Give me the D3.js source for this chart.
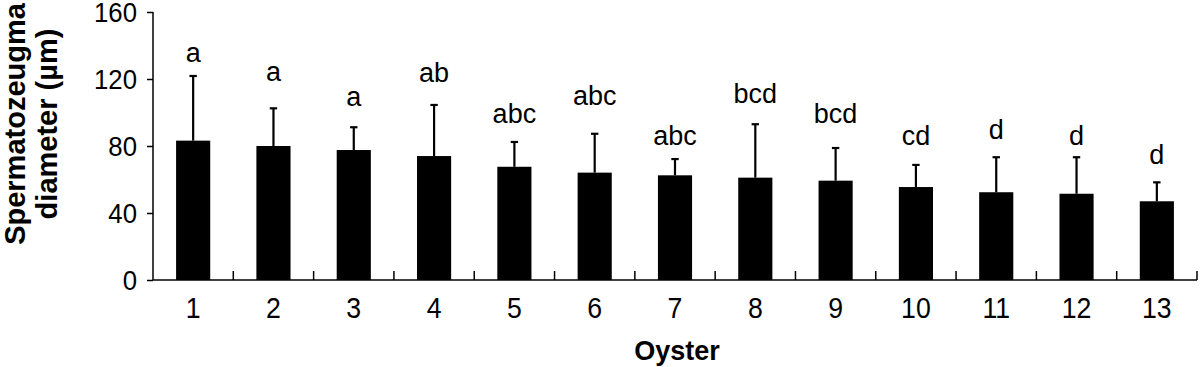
<!DOCTYPE html>
<html>
  <head>
    <title>Spermatozeugma diameter by oyster</title>
    <meta charset="UTF-8" />
    <style>
      body { margin: 0; background: #fff; }
      text { font-family: "Liberation Sans", Arial, sans-serif; fill: #000; }
    </style>
  </head>
  <body>
    <script src="https://cdn.jsdelivr.net/npm/d3@7/dist/d3.min.js" charset="utf-8"></script>
    <script>

      var oysters = ["1", "2", "3", "4", "5", "6", "7", "8", "9", "10", "11", "12", "13"];
      var means = [83.2, 80, 77.6, 74, 67.6, 64.1, 62.5, 61.1, 59.3, 55.5, 52.4, 51.5, 47];
      var sds = [38.6, 22.5, 13.6, 30.5, 14.8, 23.2, 9.7, 31.9, 19.5, 13.2, 20.9, 21.8, 11.3];
      var groups = ["a", "a", "a", "ab", "abc", "abc", "abc", "bcd", "bcd", "cd", "d", "d", "d"];
      // height (in µm) where each letter sits
      var groupAt = [130, 118.8, 103.9, 118.5, 93.5, 104.5, 80.6, 105.5, 93.5, 80.6, 83.9, 80.6, 69.3];
      var yTicks = [0, 40, 80, 120, 160];

      var data = oysters.map(function(o, i) {
        return { "o": o, "m": means[i], "sd": sds[i], "g": groups[i], "at": groupAt[i] };
      });

      var width = 1200, height = 367;
      var plotLeft = 153, plotRight = 1197, plotTop = 12, plotBottom = 280;
      var squeeze = 0.92;   // tick labels in the figure are a bit narrow

      var vis = d3.select("body")
                .append("svg")
                .attr("width", width)
                .attr("height", height);

      var x = d3.scaleBand()
                .domain(oysters)
                .range([plotLeft, plotRight])
                .paddingInner(0.575)
                .paddingOuter(0.2875);

      var y = d3.scaleLinear()
                .domain([0, 160])
                .range([plotBottom, plotTop]);

      // bars
      vis.append("g").selectAll("rect")
        .data(data)
        .enter()
        .append("rect")
        .attr("x", function(d) { return x(d.o); })
        .attr("y", function(d) { return y(d.m); })
        .attr("width", x.bandwidth())
        .attr("height", function(d) { return y(0) - y(d.m); })
        .style("fill", "#000");

      // error bars (upper only)
      var err = vis.append("g")
                .style("stroke", "#000")
                .style("stroke-width", 2.2);

      err.selectAll("line.v")
        .data(data)
        .enter()
        .append("line")
        .attr("class", "v")
        .attr("x1", function(d) { return x(d.o) + x.bandwidth() / 2; })
        .attr("x2", function(d) { return x(d.o) + x.bandwidth() / 2; })
        .attr("y1", function(d) { return y(d.m); })
        .attr("y2", function(d) { return y(d.m + d.sd); });

      err.selectAll("line.cap")
        .data(data)
        .enter()
        .append("line")
        .attr("class", "cap")
        .attr("x1", function(d) { return x(d.o) + x.bandwidth() / 2 - 3.7; })
        .attr("x2", function(d) { return x(d.o) + x.bandwidth() / 2 + 3.7; })
        .attr("y1", function(d) { return y(d.m + d.sd); })
        .attr("y2", function(d) { return y(d.m + d.sd); });

      // significance letters
      vis.append("g").selectAll("text")
        .data(data)
        .enter()
        .append("text")
        .attr("x", function(d) { return x(d.o) + x.bandwidth() / 2; })
        .attr("y", function(d) { return y(d.at); })
        .attr("text-anchor", "middle")
        .attr("font-size", "27px")
        .text(function(d) { return d.g; });

      // y axis
      var yAxis = d3.axisLeft(y)
                .tickValues(yTicks)
                .tickSize(6)
                .tickPadding(10);

      var yg = vis.append("g")
                .attr("transform", "translate(" + plotLeft + ",0)")
                .call(yAxis);
      yg.attr("font-family", null).attr("font-size", null);
      yg.select(".domain").remove();
      yg.append("line")
        .attr("x1", 0).attr("x2", 0)
        .attr("y1", plotTop).attr("y2", plotBottom)
        .style("stroke", "#000")
        .style("stroke-width", 1.5);
      yg.selectAll(".tick line").style("stroke-width", 1.5);
      yg.selectAll(".tick text")
        .attr("font-size", "28px")
        .attr("x", -16 / squeeze)
        .attr("transform", "scale(" + squeeze + ",1)")
        .attr("dy", "0.34em");

      // x axis: labels under bars, ticks between bars pointing up
      var xg = vis.append("g")
                .attr("transform", "translate(0," + plotBottom + ")");
      xg.append("line")
        .attr("x1", plotLeft).attr("x2", plotRight)
        .style("stroke", "#000")
        .style("stroke-width", 1.5);

      var bounds = oysters.slice(1).map(function(o) { return x(o) - x.step() * x.paddingInner() / 2; });
      bounds.push(plotRight);
      xg.selectAll("line.tick")
        .data(bounds)
        .enter()
        .append("line")
        .attr("class", "tick")
        .attr("x1", function(d) { return d; })
        .attr("x2", function(d) { return d; })
        .attr("y1", 0)
        .attr("y2", -9)
        .style("stroke", "#000")
        .style("stroke-width", 1.5);

      xg.selectAll("text")
        .data(oysters)
        .enter()
        .append("text")
        .attr("transform", function(d) {
          return "translate(" + (x(d) + x.bandwidth() / 2) + ",38) scale(" + squeeze + ",1)";
        })
        .attr("text-anchor", "middle")
        .attr("font-size", "29px")
        .text(function(d) { return d; });

      // axis titles
      vis.append("text")
        .attr("x", 677)
        .attr("y", 360)
        .attr("text-anchor", "middle")
        .attr("font-size", "27px")
        .attr("font-weight", "bold")
        .text("Oyster");

      var yt = vis.append("text")
                .attr("transform", "translate(0,124) rotate(-90)")
                .attr("text-anchor", "middle")
                .attr("font-size", "29px")
                .attr("font-weight", "bold");
      yt.append("tspan").attr("x", 0).attr("y", 25).text("Spermatozeugma");
      yt.append("tspan").attr("x", 0).attr("y", 57).text("diameter (\u00b5m)");

    </script>
  </body>
</html>
